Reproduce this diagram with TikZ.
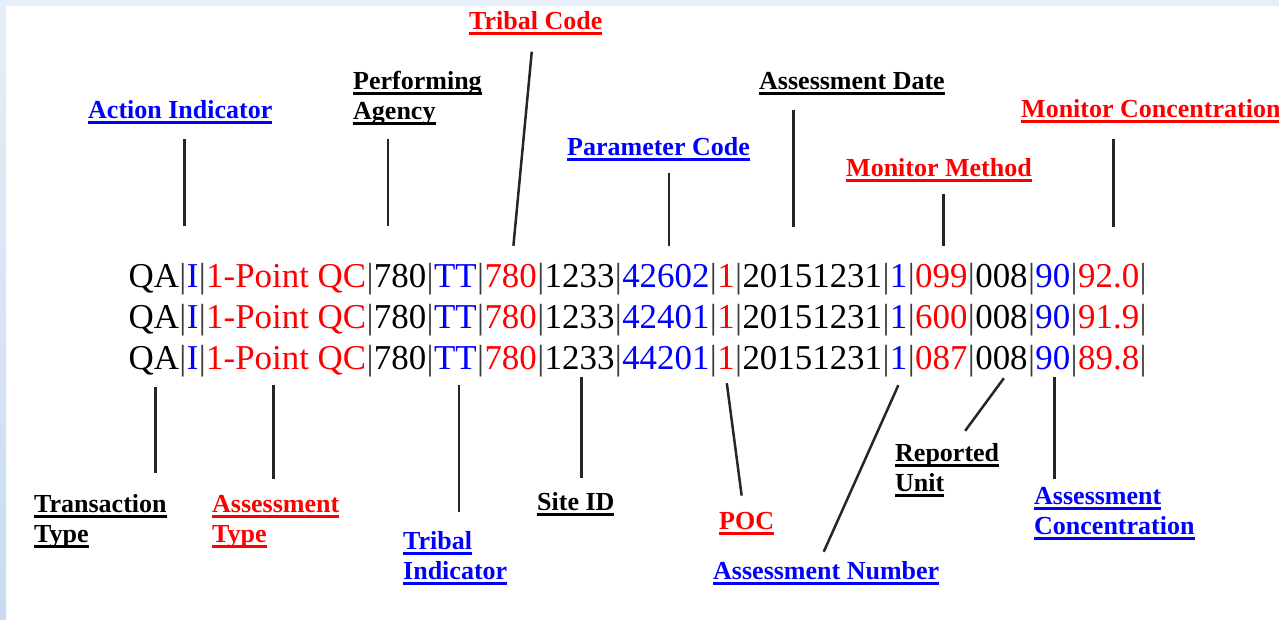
\documentclass[tikz,border=0pt]{standalone}
\usepackage{fontspec}
\setmainfont{Liberation Serif}
\usepackage{tikz}
\usetikzlibrary{calc}
\definecolor{framebg}{HTML}{E6EEF8}
\definecolor{frameside}{HTML}{C8DBF0}
\definecolor{bargray}{HTML}{3A3A3A}
\newcommand{\ulabel}[1]{\setbox0=\hbox{#1}\rlap{\rule[-5.5pt]{\wd0}{2.5pt}}\box0}
\tikzset{
    lbl/.style={font=\fontsize{26}{30}\selectfont\bfseries, inner sep=0pt, anchor=base west, align=left},
    fld/.style={font=\fontsize{34.9}{41}\selectfont, inner sep=0pt, text height=24pt, text depth=0pt, anchor=base west},
    lead/.style={draw=black!85, line width=2.5pt}
}

\begin{document}
\begin{tikzpicture}[x=1pt, y=-1pt]
        \useasboundingbox (0, 0) rectangle (1279, 619);
        \fill[framebg] (0, 0) rectangle (1279, 6);
        \shade[top color=framebg, bottom color=frameside] (0, 0) rectangle (6, 619);

        \foreach \rw/\yy/\pc/\mm/\mc in {1/287/42602/099/92.0, 2/328/42401/600/91.9, 3/369/44201/087/89.8} {
            \node[fld] at (127, \yy) (B\rw-0) {};
            \foreach \txt/\col [count=\n, remember=\n as \m (initially 0)] in {QA/black, I/blue, 1-Point QC/red, 780/black, TT/blue, 780/red, 1233/black, \pc/blue, 1/red, 20151231/black, 1/blue, \mm/red, 008/black, 90/blue, \mc/red} {
                \node[fld, text=\col] at (B\rw-\m.base east) (F\rw-\n) {\txt};
                \node[fld, text=bargray] at (F\rw-\n.base east) (B\rw-\n) {|};
            }
        }

        \node[lbl, text=blue] at (88, 118) (ActInd) {\ulabel{Action Indicator}};
        \node[lbl] at (353, 119) (PerfAg) {\ulabel{Performing}\\\ulabel{Agency}};
        \node[lbl, text=red] at (469, 29) (TribCode) {\ulabel{Tribal Code}};
        \node[lbl, text=blue] at (567, 155) (ParCode) {\ulabel{Parameter Code}};
        \node[lbl] at (759, 89) (AssDate) {\ulabel{Assessment Date}};
        \node[lbl, text=red] at (846, 176) (MonMeth) {\ulabel{Monitor Method}};
        \node[lbl, text=red] at (1021, 117) (MonConc) {\ulabel{Monitor Concentration}};
        \node[lbl] at (34, 542) (TransType) {\ulabel{Transaction}\\\ulabel{Type}};
        \node[lbl, text=red] at (212, 542) (AssType) {\ulabel{Assessment}\\\ulabel{Type}};
        \node[lbl, text=blue] at (403, 579) (TribInd) {\ulabel{Tribal}\\\ulabel{Indicator}};
        \node[lbl] at (537, 510) (SiteID) {\ulabel{Site ID}};
        \node[lbl, text=red] at (719, 529) (POC) {\ulabel{POC}};
        \node[lbl, text=blue] at (713, 579) (AssNum) {\ulabel{Assessment Number}};
        \node[lbl] at (895, 491) (RepUnit) {\ulabel{Reported}\\\ulabel{Unit}};
        \node[lbl, text=blue] at (1034, 534) (AssConc) {\ulabel{Assessment}\\\ulabel{Concentration}};

        \draw[lead] ($(F1-2.north |- ActInd.south)+(-8.3, 15)$) -- ($(F1-2.north)+(-8.3, -37)$);
        \draw[lead] ($(F1-4.north |- PerfAg.south)+(-12, 14)$) -- ($(F1-4.north)+(-12, -37)$);
        \draw[lead] ($(TribCode.south)+(-4, 17)$) -- ($(F1-6.north)+(2.7, -17)$);
        \draw[lead] ($(F1-8.north |- ParCode.south)+(3, 12)$) -- ($(F1-8.north)+(3, -17)$);
        \draw[lead] ($(F1-10.north |- AssDate.south)+(-18.6, 15)$) -- ($(F1-10.north)+(-18.6, -36)$);
        \draw[lead] ($(F1-12.north |- MonMeth.south)+(2, 12)$) -- ($(F1-12.north)+(2, -17)$);
        \draw[lead] ($(F1-15.north |- MonConc.south)+(4.6, 16)$) -- ($(F1-15.north)+(4.6, -36)$);

        \draw[lead] ($(F3-1.south)+(1.8, 18)$) -- ($(F3-1.south |- TransType.north)+(1.8, -21)$);
        \draw[lead] ($(F3-3.south)+(-12.8, 16)$) -- ($(F3-3.south |- AssType.north)+(-12.8, -16)$);
        \draw[lead] ($(F3-5.south)+(3.6, 16)$) -- ($(F3-5.south |- TribInd.north)+(3.6, -19)$);
        \draw[lead] ($(F3-7.south)+(2, 8)$) -- ($(F3-7.south |- SiteID.north)+(2, -14)$);
        \draw[lead] ($(F3-9.south)+(0.8, 14)$) -- ($(POC.north)+(-5, -16)$);
        \draw[lead] ($(F3-11.south)+(-0.3, 16)$) -- ($(AssNum.north)+(-2.5, -9)$);
        \draw[lead] ($(F3-13.south)+(2.4, 9)$) -- ($(RepUnit.north)+(18, -12)$);
        \draw[lead] ($(F3-14.south)+(1.5, 8)$) -- ($(F3-14.south |- AssConc.north)+(1.5, -8)$);
    \end{tikzpicture}
\end{document}
